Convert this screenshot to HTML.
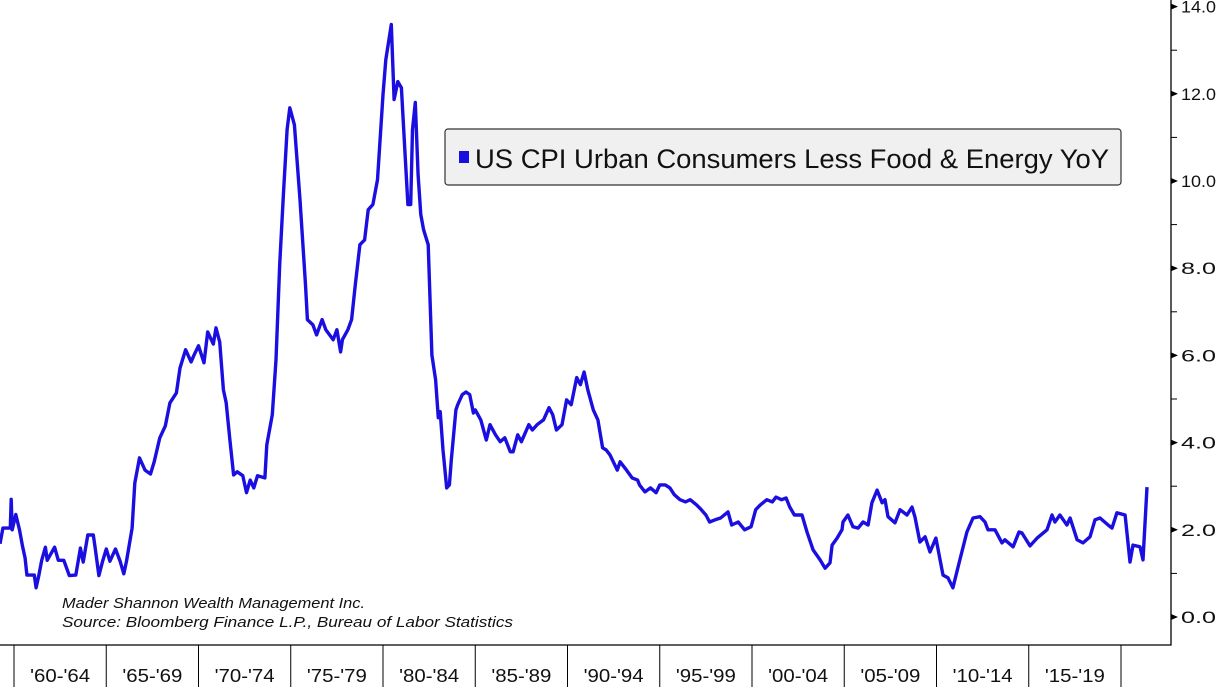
<!DOCTYPE html>
<html><head><meta charset="utf-8"><style>
html,body{margin:0;padding:0;background:#fff;}
svg{display:block;font-family:"Liberation Sans",sans-serif;}
</style></head><body>
<svg id="chart" width="1218" height="687" viewBox="0 0 1218 687" xmlns="http://www.w3.org/2000/svg">
<g id="axes"></g>
<g id="series"></g>
<g>
<rect x="445" y="129" width="676" height="56" rx="3" fill="#f0f0f0" stroke="#333" stroke-width="1.2"/>
<rect x="459" y="151" width="10" height="12" fill="#1a0fe0"/>
<text x="475" y="168" font-size="27" textLength="634" lengthAdjust="spacingAndGlyphs" fill="#111">US CPI Urban Consumers Less Food &amp; Energy YoY</text>
</g>
<text x="62" y="608" font-size="15" font-style="italic" fill="#111" textLength="303" lengthAdjust="spacingAndGlyphs">Mader Shannon Wealth Management Inc.</text>
<text x="62" y="627" font-size="15" font-style="italic" fill="#111" textLength="451" lengthAdjust="spacingAndGlyphs">Source: Bloomberg Finance L.P., Bureau of Labor Statistics</text>
</svg>
<script>
const years=[1959.24,1959.4,1959.8,1959.85,1959.9,1960.1,1960.3,1960.45,1960.6,1960.7,1961.1,1961.2,1961.35,1961.5,1961.7,1961.8,1962.2,1962.4,1962.7,1963.0,1963.35,1963.6,1963.75,1964.0,1964.3,1964.4,1964.6,1964.8,1965.0,1965.2,1965.5,1965.75,1965.95,1966.1,1966.4,1966.55,1966.8,1967.1,1967.4,1967.6,1967.9,1968.2,1968.45,1968.8,1969.0,1969.3,1969.6,1969.75,1970.0,1970.3,1970.5,1970.8,1970.95,1971.15,1971.35,1971.5,1971.7,1971.9,1972.1,1972.4,1972.6,1972.8,1973.0,1973.2,1973.6,1973.7,1974.0,1974.2,1974.4,1974.6,1974.8,1974.95,1975.2,1975.5,1975.8,1975.9,1976.2,1976.4,1976.7,1976.9,1977.3,1977.5,1977.7,1977.8,1978.1,1978.3,1978.5,1978.75,1979.0,1979.2,1979.45,1979.7,1980.0,1980.15,1980.45,1980.6,1980.8,1981.0,1981.2,1981.35,1981.5,1981.6,1981.75,1981.9,1982.05,1982.2,1982.45,1982.65,1982.85,1983.0,1983.1,1983.25,1983.45,1983.6,1983.7,1983.95,1984.05,1984.3,1984.5,1984.7,1984.9,1985.0,1985.3,1985.6,1985.8,1986.1,1986.35,1986.6,1986.9,1987.05,1987.3,1987.5,1987.9,1988.1,1988.35,1988.7,1989.0,1989.2,1989.4,1989.7,1989.95,1990.2,1990.5,1990.7,1990.9,1991.1,1991.4,1991.65,1991.9,1992.1,1992.3,1992.7,1992.85,1993.2,1993.5,1993.8,1993.9,1994.2,1994.5,1994.8,1995.0,1995.3,1995.55,1995.8,1996.1,1996.4,1996.65,1997.0,1997.25,1997.5,1997.7,1998.0,1998.3,1998.7,1998.9,1999.25,1999.6,1999.95,2000.2,2000.45,2000.8,2001.1,2001.3,2001.6,2001.85,2002.05,2002.3,2002.71,2002.98,2003.31,2003.69,2003.96,2004.23,2004.34,2004.61,2004.88,2004.93,2005.2,2005.47,2005.75,2006.02,2006.29,2006.5,2006.78,2007.05,2007.21,2007.37,2007.75,2008.02,2008.4,2008.67,2008.83,2009.1,2009.38,2009.65,2009.97,2010.35,2010.62,2010.89,2011.17,2011.65,2011.98,2012.36,2012.63,2012.79,2013.17,2013.55,2013.71,2014.15,2014.47,2014.63,2015.07,2015.45,2015.99,2016.26,2016.42,2016.69,2017.07,2017.24,2017.62,2017.94,2018.32,2018.59,2018.86,2019.3,2019.51,2019.78,2020.22,2020.49,2020.65,2021.03,2021.19,2021.41];
const values=[1.68,2.04,2.04,2.7,2.0,2.35,2.0,1.65,1.35,0.96,0.96,0.67,0.96,1.3,1.6,1.3,1.6,1.3,1.3,0.95,0.96,1.58,1.26,1.88,1.88,1.58,0.95,1.28,1.56,1.28,1.56,1.28,0.99,1.28,2.04,3.07,3.65,3.37,3.28,3.56,4.11,4.38,4.91,5.14,5.71,6.13,5.85,6.0,6.22,5.83,6.54,6.26,6.63,6.31,5.21,4.91,4.06,3.26,3.33,3.24,2.85,3.14,2.96,3.24,3.19,3.95,4.64,5.9,8.08,9.69,11.18,11.68,11.29,9.57,7.62,6.82,6.7,6.47,6.82,6.59,6.36,6.59,6.08,6.36,6.59,6.82,7.62,8.54,8.65,9.34,9.46,10.03,11.98,12.78,13.59,11.87,12.28,12.14,10.6,9.46,9.46,11.18,11.8,10.14,9.23,8.88,8.54,6.01,5.44,4.57,4.71,3.83,2.96,3.03,3.6,4.75,4.87,5.1,5.16,5.1,4.68,4.75,4.52,4.06,4.41,4.18,4.02,4.11,3.79,3.79,4.18,4.02,4.41,4.29,4.41,4.52,4.8,4.64,4.29,4.41,4.98,4.87,5.49,5.33,5.62,5.21,4.75,4.52,3.88,3.83,3.72,3.37,3.56,3.37,3.19,3.14,3.03,2.87,2.96,2.85,3.03,3.03,2.96,2.8,2.69,2.64,2.69,2.57,2.46,2.34,2.18,2.23,2.27,2.41,2.11,2.18,2.0,2.07,2.46,2.57,2.69,2.64,2.75,2.69,2.73,2.52,2.34,2.34,1.95,1.54,1.31,1.12,1.24,1.65,1.81,2.0,2.18,2.34,2.07,2.04,2.18,2.11,2.62,2.91,2.62,2.69,2.3,2.16,2.46,2.34,2.52,2.3,1.72,1.84,1.49,1.81,0.96,0.9,0.67,1.15,1.95,2.27,2.3,2.18,2.0,2.0,1.7,1.77,1.61,1.95,1.93,1.63,1.81,2.0,2.34,2.18,2.34,2.11,2.27,1.77,1.7,1.84,2.23,2.27,2.11,2.04,2.39,2.34,1.26,1.65,1.61,1.31,2.98];
const yTicks=[0,2,4,6,8,10,12,14];
const periodLabels=["'60-'64","'65-'69","'70-'74","'75-'79","'80-'84","'85-'89","'90-'94","'95-'99","'00-'04","'05-'09","'10-'14","'15-'19"];
const periodStarts=[1960,1965,1970,1975,1980,1985,1990,1995,2000,2005,2010,2015,2020];

const NS="http://www.w3.org/2000/svg";
const xOf=yr=>14+(yr-1960)*18.45;
const yOf=v=>617-v*43.6;
const axes=document.getElementById('axes');
function mk(tag,attrs,parent){const e=document.createElementNS(NS,tag);for(const k in attrs)e.setAttribute(k,attrs[k]);parent.appendChild(e);return e;}

const frame=mk('path',{d:'M0 645 H1171 V0',fill:'none',stroke:'#000','stroke-width':1.3},axes);



for(let v=1;v<14;v+=2){
  const t=mk('line',{x1:1171,x2:1177,y1:yOf(v),y2:yOf(v),stroke:'#000','stroke-width':1},axes);
  
  
}
yTicks.forEach(v=>{
  const y=yOf(v);
  const m=mk('path',{d:`M1171 ${y-3} L1178 ${y} L1171 ${y+3} Z`,fill:'#000'},axes);
  
  
  const t=mk('text',{x:1181,y:y+6,'font-size':17,fill:'#111',textLength:35,lengthAdjust:'spacingAndGlyphs'},axes);
  t.textContent=v.toFixed(1);
  
  
});
periodStarts.forEach(yr=>{
  const l=mk('line',{x1:xOf(yr),x2:xOf(yr),y1:645,y2:687,stroke:'#000','stroke-width':1},axes);
  
  
});
periodLabels.forEach((lab,i)=>{
  const cx=(xOf(periodStarts[i])+xOf(periodStarts[i+1]))/2;
  const t=mk('text',{x:cx,y:682,'font-size':18,'text-anchor':'middle',fill:'#111',textLength:60,lengthAdjust:'spacingAndGlyphs'},axes);
  t.textContent=lab;
  
  
});

const d=years.map((yr,i)=>(i?'L':'M')+xOf(yr).toFixed(1)+' '+yOf(values[i]).toFixed(1)).join(' ');
const line=mk('path',{d:d,fill:'none',stroke:'#1a0fe0','stroke-width':3.4,'stroke-linejoin':'round'},document.getElementById('series'));


</script>
</body></html>
